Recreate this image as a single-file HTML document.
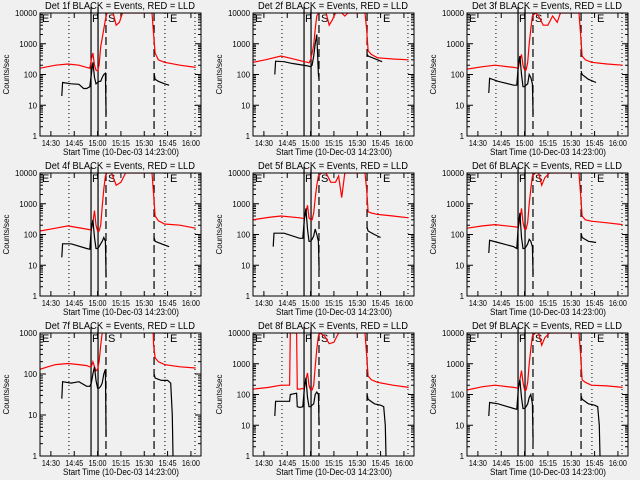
<!DOCTYPE html>
<html><head><meta charset="utf-8"><style>
html,body{margin:0;padding:0;background:#f0f0f0;}
svg{display:block;font-family:"Liberation Sans",sans-serif;}
</style></head><body>
<svg id="c" width="640" height="480" viewBox="0 0 640 480"></svg>
<script>
const ticksMin=[7,22,37,52,67,82,97];
const tickLabels=["14:30","14:45","15:00","15:15","15:30","15:45","16:00"];
const solidLines=[32.8,37.3];
const dashedLines=[42.4,73.3];
const dottedLines=[18.6,80.3,99.6];
const detNames=["1f","2f","3f","4f","5f","6f","7f","8f","9f"];
const yMaxes=[10000,10000,10000,10000,10000,10000,1000,10000,10000];

const red1T=[0,5,10,18,25,30,32,33,34,35,36,37,38,39,40,41,42,43,47,49,51,53,72,73,74,76,80,90,100];
const red1V=[160,180,200,220,200,170,160,300,500,200,140,130,200,800,1500,3000,6000,10000,10000,4000,5000,10000,10000,2000,500,300,250,200,170];
const blk1T=[14,14.5,20,25,28,30,32,33,34,35,36,37,38,39,40,41,42,42.5,null,73.3,74,76,80,83];
const blk1V=[20,55,50,48,35,35,40,100,250,80,50,55,60,60,80,100,110,5,null,110,70,60,50,45];

const red2T=[0,8,18,25,33,35,36,37,38,39,40,41,42,43,47,49,51,53,57,59,61,72,73,74,76,80,90,100];
const red2V=[250,300,400,330,260,250,240,300,500,900,3000,8000,10000,10000,10000,4000,6000,10000,10000,8000,10000,10000,3000,600,450,350,320,300];
const blk2T=[14,14.5,20,25,30,35,37,38,39,40,41,42,42.5,null,73.3,74,80,83];
const blk2V=[100,270,260,230,210,190,180,200,400,1000,2000,100,70,null,450,400,300,260];

const red3T=[0,10,18,30,33,34,35,36,37,38,39,40,41,42,44,46,49,52,55,58,60,63,72,73,74,76,80,90,100];
const red3V=[150,180,200,170,160,300,450,200,140,140,250,1000,3000,8000,10000,8000,4000,4000,8000,5000,10000,10000,10000,2000,400,300,250,220,200];
const blk3T=[14,14.5,20,30,32,33,34,35,36,37,38,39,40,41,42,42.5,null,73.3,74,78,83];
const blk3V=[25,75,60,45,45,200,400,100,40,40,45,50,100,80,50,5,null,130,100,70,55];

const red4T=[0,10,18,30,33,34,35,36,37,38,39,40,41,42,43,46,49,52,55,58,72,73,74,76,80,90,100];
const red4V=[130,160,190,150,140,250,600,200,130,130,200,800,3000,8000,10000,10000,4000,5000,10000,10000,10000,2000,400,280,220,200,160];
const blk4T=[14,14.5,20,30,32,33,34,35,36,37,38,39,40,41,42,42.5,null,73.3,74,78,83];
const blk4V=[18,50,50,35,33,150,300,80,35,35,40,50,60,80,60,4,null,80,60,50,40];

const red5T=[0,10,18,30,33,34,35,36,37,38,39,40,41,42,44,47,50,53,55,57,59,62,72,73,74,76,80,90,100];
const red5V=[300,360,400,350,330,500,900,350,300,300,500,1500,4000,8000,10000,10000,5000,5000,8000,1600,10000,10000,10000,3000,550,500,450,400,350];
const blk5T=[13,13.5,20,30,32,33,34,35,36,37,38,39,40,41,42,42.5,null,73.3,74,78,82];
const blk5V=[40,110,110,75,75,300,700,150,60,60,70,90,150,100,60,7,null,170,130,100,80];

const red6T=[0,10,18,30,33,34,35,36,37,38,39,40,41,42,44,46,48,50,53,72,73,74,76,80,90,100];
const red6V=[160,190,210,180,170,300,700,250,150,150,250,1000,3000,8000,10000,10000,4000,7000,10000,10000,2000,400,300,270,240,210];
const blk6T=[14,14.5,20,30,32,33,34,35,36,37,38,39,40,41,42,42.5,null,73.3,74,78,83];
const blk6V=[25,65,55,40,35,200,500,80,35,35,40,50,70,60,40,5,null,110,80,60,55];

const red7T=[0,5,10,18,25,30,32,33,34,35,36,37,38,39,40,41,42,72,73,74,76,80,90,100];
const red7V=[130,150,170,180,170,160,150,150,200,150,120,130,200,500,1000,3000,10000,10000,500,250,200,170,150,140];
const blk7T=[14,14.5,20,25,30,32,33,34,35,36,37,38,39,40,41,42,42.5,null,73.3,74,78,82,84,85,85.5];
const blk7V=[25,65,60,65,50,50,60,100,150,70,45,45,50,60,100,130,3,null,100,80,70,70,60,10,1];

const red8T=[0,10,18,23.5,24,28,28.5,30,33,34,35,36,37,38,39,40,41,42,43,46,49,52,55,72,73,74,76,80,90,100];
const red8V=[150,170,200,200,10000,10000,150,150,160,300,500,200,140,140,200,800,3000,8000,10000,8000,4500,5000,10000,10000,2000,400,300,250,200,170];
const blk8T=[14,14.5,20,23.5,24,28,28.5,30,32,33,34,35,36,37,38,39,40,41,42,42.5,null,73.3,74,78,82,84,85,85.5];
const blk8V=[20,60,60,60,100,110,40,38,40,150,350,80,40,40,45,50,100,120,100,10,null,100,70,50,45,40,10,1];

const red9T=[0,10,18,30,33,34,35,36,37,38,39,40,41,42,44,46,48,50,53,72,73,74,76,80,90,100];
const red9V=[140,180,200,170,160,300,600,250,140,140,250,1000,3000,8000,10000,10000,4000,7000,10000,10000,2000,300,250,200,190,170];
const blk9T=[14,14.5,20,30,32,33,34,35,36,37,38,39,40,41,42,42.5,null,73.3,74,78,82,84,85,85.5];
const blk9V=[20,55,50,35,33,150,300,80,35,35,40,50,80,100,50,3,null,90,70,50,45,40,10,1];

const redTs=[red1T,red2T,red3T,red4T,red5T,red6T,red7T,red8T,red9T];
const redVs=[red1V,red2V,red3V,red4V,red5V,red6V,red7V,red8V,red9V];
const blkTs=[blk1T,blk2T,blk3T,blk4T,blk5T,blk6T,blk7T,blk8T,blk9T];
const blkVs=[blk1V,blk2V,blk3V,blk4V,blk5V,blk6V,blk7V,blk8V,blk9V];

const NS="http://www.w3.org/2000/svg";
const svg=document.getElementById('c');
function mk(tag,attrs,parent){const e=document.createElementNS(NS,tag);for(const k in attrs)e.setAttribute(k,attrs[k]);(parent||svg).appendChild(e);return e;}
const colX=[40,253,467], PW=161, PXPM=1.556;

for(let p=0;p<9;p++){
  const c=p%3, r=Math.floor(p/3);
  const x0=colX[c], y0=13+160*r, y1=136+160*r;
  const ymax=yMaxes[p], dec=Math.log10(ymax);
  const xs=m=>x0+m*PXPM;
  const ys=v=>y1-(Math.log10(Math.max(v,1))/dec)*(y1-y0);
  const g=mk('g',{});
  
  
  const cp=mk('clipPath',{id:'cp'+p},g);
  mk('rect',{x:x0,y:y0,width:PW,height:y1-y0},cp);
  const t=mk('text',{x:x0+5,y:y0-4,'font-size':10,fill:'#000',textLength:150,lengthAdjust:'spacingAndGlyphs'},g);
  t.textContent='Det '+detNames[p]+' BLACK = Events, RED = LLD';
  
  
  for(let d=0;d<=dec;d++){
    const yy=ys(Math.pow(10,d));
    const s=String(Math.pow(10,d));
    const lab=mk('text',{x:x0-3-s.length*4.4,y:yy+3,'font-size':8,fill:'#000',textLength:s.length*4.4,lengthAdjust:'spacingAndGlyphs'},g);
    lab.textContent=s;
    
    
    mk('line',{x1:x0,x2:x0+6,y1:yy,y2:yy,stroke:'#000'},g);
    mk('line',{x1:x0+PW-6,x2:x0+PW,y1:yy,y2:yy,stroke:'#000'},g);
    if(d<dec){for(let k=2;k<10;k++){const ym=ys(k*Math.pow(10,d));
      mk('line',{x1:x0,x2:x0+3,y1:ym,y2:ym,stroke:'#000'},g);
      mk('line',{x1:x0+PW-3,x2:x0+PW,y1:ym,y2:ym,stroke:'#000'},g);}}
  }
  const yl=mk('text',{x:0,y:0,'font-size':8,'text-anchor':'middle',fill:'#000',textLength:40,lengthAdjust:'spacingAndGlyphs',transform:`translate(${x0-31},${(y0+y1)/2}) rotate(-90)`},g);
  yl.textContent='Counts/sec';
  
  
  ticksMin.forEach((m,i)=>{
    const xx=xs(m);
    mk('line',{x1:xx,x2:xx,y1:y1,y2:y1-5,stroke:'#000'},g);
    mk('line',{x1:xx,x2:xx,y1:y0,y2:y0+5,stroke:'#000'},g);
    const tl=mk('text',{x:xx-9,y:y1+10,'font-size':8,fill:'#000',textLength:18,lengthAdjust:'spacingAndGlyphs'},g);
    tl.textContent=tickLabels[i];
    
    
  });
  const xl=mk('text',{x:x0+23,y:y1+19,'font-size':9,fill:'#000',textLength:116,lengthAdjust:'spacingAndGlyphs'},g);
  xl.textContent='Start Time (10-Dec-03 14:23:00)';
  
  
  solidLines.forEach(m=>mk('line',{x1:xs(m),x2:xs(m),y1:y0-6,y2:y1,stroke:'#000','stroke-width':1.2},g));
  dashedLines.forEach(m=>mk('line',{x1:xs(m),x2:xs(m),y1:y0,y2:y1,stroke:'#000','stroke-width':1.2,'stroke-dasharray':'8,4'},g));
  dottedLines.forEach(m=>mk('line',{x1:xs(m),x2:xs(m),y1:y0,y2:y1,stroke:'#000','stroke-dasharray':'1,3'},g));
  [['E',x0+2],['F',xs(solidLines[0])+1],['S',xs(dashedLines[0])+2],['E',xs(dashedLines[1])+16]].forEach(a=>{
    const lt=mk('text',{x:a[1],y:y0+9,'font-size':11,fill:'#000'},g);lt.textContent=a[0];
    
    
  });
  const lg=mk('g',{'clip-path':`url(#cp${p})`},g);
  function path(T,V,col,name){
    let d='',pen=false;
    for(let i=0;i<T.length;i++){
      if(T[i]===null||V[i]===null){pen=false;continue;}
      d+=(pen?'L':'M')+xs(T[i]).toFixed(1)+','+ys(V[i]).toFixed(1);pen=true;
    }
    const pe=mk('path',{d:d,fill:'none',stroke:col,'stroke-width':1.2},lg);
    
    
  }
  path(redTs[p],redVs[p],'#ff0000','lld-red-series');
  path(blkTs[p],blkVs[p],'#000000','events-black-series');
  const box=mk('rect',{x:x0,y:y0,width:PW,height:y1-y0,fill:'none',stroke:'#000'},g);
  
  
}
</script>
</body></html>
